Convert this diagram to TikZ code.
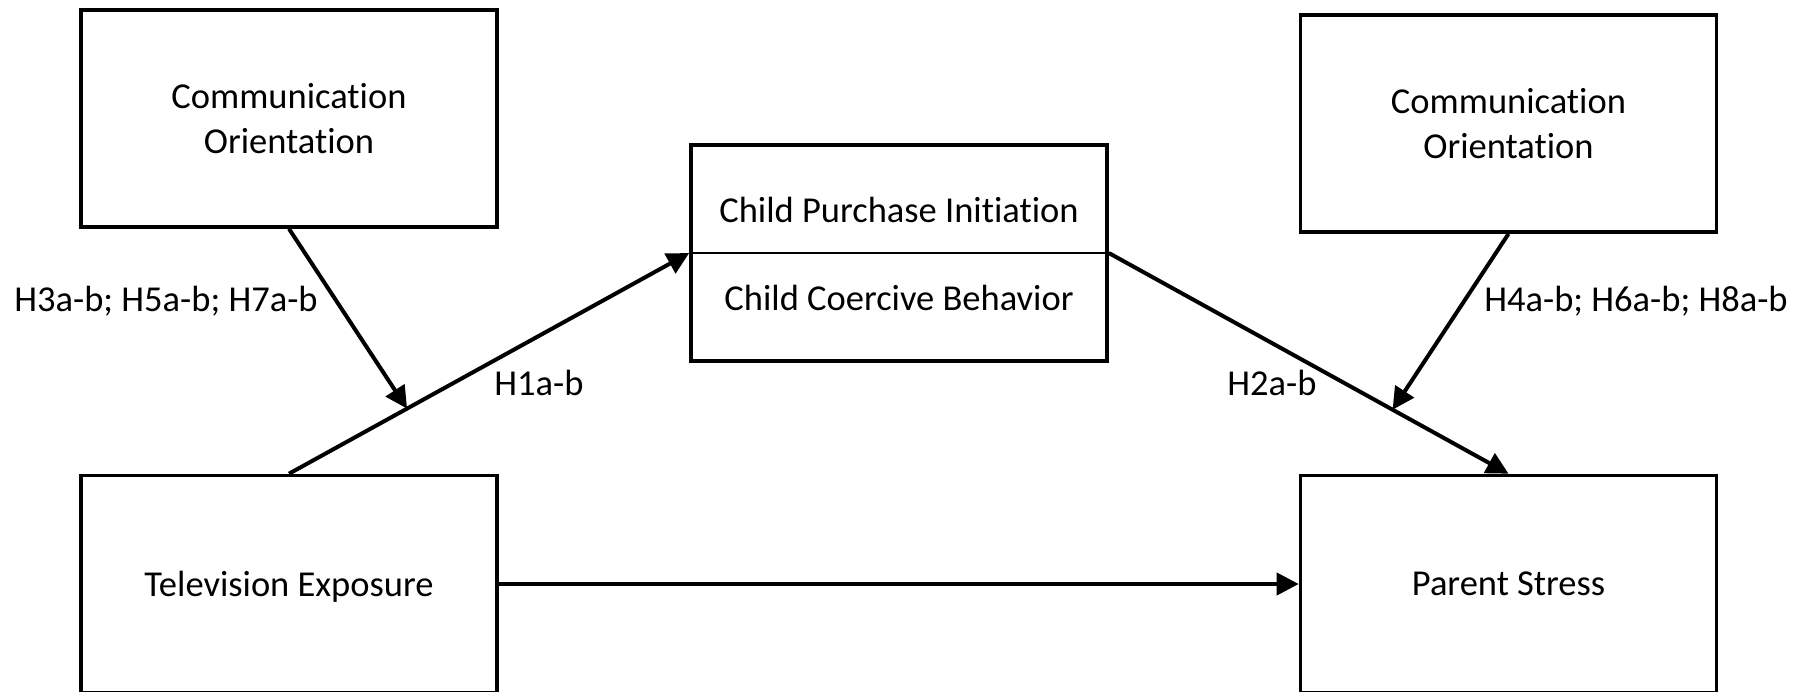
\documentclass[tikz,border=0pt]{standalone}
\usepackage{fontspec}
\setmainfont{Carlito}[Ligatures={NoCommon,NoContextual,NoRequired}]
\usetikzlibrary{arrows.meta,calc}
\begin{document}
\begin{tikzpicture}[x=0.5pt,y=-0.5pt,
  every node/.style={font=\fontsize{18.25}{22.4}\selectfont},
  box/.style={draw,line width=1.8pt,minimum width=208pt,minimum height=108.5pt,inner sep=0pt,align=center},
  conn/.style={line width=2pt,-{Triangle[length=11pt,width=11pt]}},
  lbl/.style={inner sep=0pt}]
\useasboundingbox (0,0) rectangle (1813,691);
\clip (0,0) rectangle (1813,691);
\node[box] (colL) at (289,118.5) {Communication\\Orientation};
\node[box] (colR) at (1508.5,123.5) {Communication\\Orientation};
\node[box,minimum height=108pt] (mid) at (899,253) {};
\node[box,text depth=0pt] (te) at (289,584) {Television Exposure};
\node[box,text depth=0pt] (ps) at (1508.5,584) {Parent Stress};
\draw[line width=0.7pt] (mid.west) -- (mid.east);
\node[lbl,anchor=base] (cpi) at (899,222) {Child Purchase Initiation};
\node[lbl,anchor=base] (ccb) at (899,310) {Child Coercive Behavior};
\node[lbl,anchor=base west] (h3) at (14,311) {H3a-b; H5a-b; H7a-b};
\node[lbl,anchor=base east] (h4) at (1788,311) {H4a-b; H6a-b; H8a-b};
\node[lbl,anchor=base] (h1) at (539,395) {H1a-b};
\node[lbl,anchor=base] (h2) at (1272,395) {H2a-b};
\coordinate (m1) at ($(te.north)!0.295!(mid.west)$);
\coordinate (m2) at ($(mid.east)!0.71!(ps.north)$);
\draw[conn] (te.north) -- (mid.west);
\draw[conn] (mid.east) -- (ps.north);
\draw[conn] (colL.south) -- (m1);
\draw[conn] (colR.south) -- (m2);
\draw[conn] (te.east) -- (ps.west);
\end{tikzpicture}
\end{document}
